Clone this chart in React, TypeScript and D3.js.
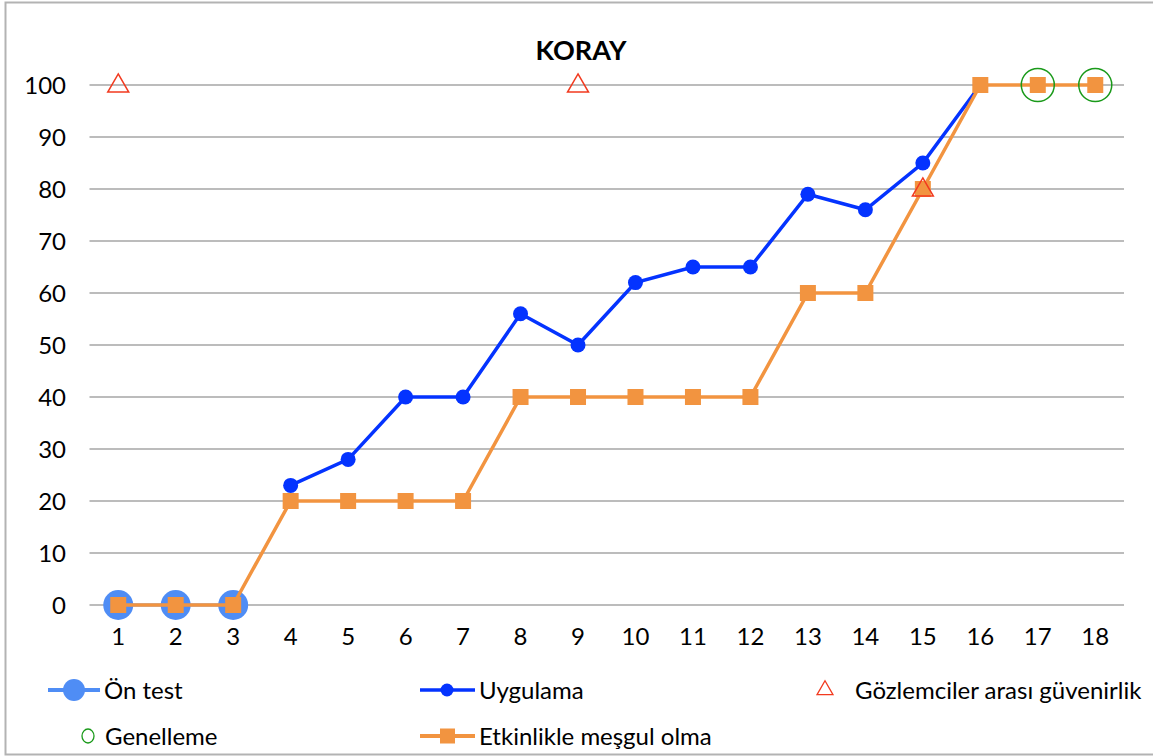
import React, { useRef, useEffect } from 'react';
import * as d3 from 'd3';

// x categories (sessions)
const sessions = ['1','2','3','4','5','6','7','8','9','10','11','12','13','14','15','16','17','18'];
const yTicks = [0, 10, 20, 30, 40, 50, 60, 70, 80, 90, 100];

// series: [session, value]
const onTest: [string, number][] = [['1', 0], ['2', 0], ['3', 0]];
const uygulama: [string, number][] = [
  ['4', 23], ['5', 28], ['6', 40], ['7', 40], ['8', 56], ['9', 50], ['10', 62],
  ['11', 65], ['12', 65], ['13', 79], ['14', 76], ['15', 85], ['16', 100],
];
const guvenirlik: [string, number][] = [['1', 100], ['9', 100], ['15', 80]];
const genelleme: [string, number][] = [['17', 100], ['18', 100]];
const etkinlik: [string, number][] = [
  ['1', 0], ['2', 0], ['3', 0], ['4', 20], ['5', 20], ['6', 20], ['7', 20], ['8', 40], ['9', 40],
  ['10', 40], ['11', 40], ['12', 40], ['13', 60], ['14', 60], ['15', 80], ['16', 100], ['17', 100], ['18', 100],
];

const FONT = 'Lato, "Open Sans", sans-serif';
const BLUE_LIGHT = '#4f8df5';
const BLUE = '#0433ff';
const ORANGE = '#f29440';
const RED = '#f23a1f';
const GREEN = '#1a9a1a';

const App = () => {
  const ref = useRef<SVGSVGElement>(null);

  useEffect(() => {
    const svg = d3.select(ref.current);
    svg.selectAll('*').remove();

    // chart frame
    svg.append('rect')
      .attr('x', 5.5).attr('y', 2.5).attr('width', 1160).attr('height', 752)
      .attr('fill', '#fff').attr('stroke', '#b3b3b3').attr('stroke-width', 2);

    const x = d3.scaleBand().domain(sessions).range([89.5, 1124]);
    const y = d3.scaleLinear().domain([0, 100]).range([605, 85]);
    const cx = (d: [string, number]) => (x(d[0]) as number) + x.bandwidth() / 2;
    const cy = (d: [string, number]) => y(d[1]);

    // title
    svg.append('text')
      .attr('x', 581).attr('y', 60)
      .attr('text-anchor', 'middle')
      .attr('font-family', FONT).attr('font-weight', 'bold').attr('font-size', 27)
      .text('KORAY');

    // grid lines
    svg.append('g').selectAll('line').data(yTicks).join('line')
      .attr('x1', 89.5).attr('x2', 1124)
      .attr('y1', d => y(d)).attr('y2', d => y(d))
      .attr('stroke', '#a6a6a6').attr('stroke-width', 1.5);

    // y labels
    svg.append('g').selectAll('text').data(yTicks).join('text')
      .attr('x', 66).attr('y', d => y(d) + 8.5)
      .attr('text-anchor', 'end')
      .attr('font-family', FONT).attr('font-size', 24)
      .text(d => d);

    // x labels
    svg.append('g').selectAll('text').data(sessions).join('text')
      .attr('x', d => (x(d) as number) + x.bandwidth() / 2).attr('y', 645)
      .attr('text-anchor', 'middle')
      .attr('font-family', FONT).attr('font-size', 24)
      .text(d => d);

    const line = d3.line<[string, number]>().x(cx).y(cy);
    const tri = d3.symbol().type(d3.symbolTriangle).size(190);

    // Ön test
    svg.append('path').datum(onTest).attr('d', line)
      .attr('fill', 'none').attr('stroke', BLUE_LIGHT).attr('stroke-width', 3);
    svg.append('g').selectAll('circle').data(onTest).join('circle')
      .attr('cx', cx).attr('cy', cy).attr('r', 15).attr('fill', BLUE_LIGHT);

    // Uygulama
    svg.append('path').datum(uygulama).attr('d', line)
      .attr('fill', 'none').attr('stroke', BLUE).attr('stroke-width', 3.5);
    svg.append('g').selectAll('circle').data(uygulama).join('circle')
      .attr('cx', cx).attr('cy', cy).attr('r', 7.5).attr('fill', BLUE);

    // Etkinlikle meşgul olma
    svg.append('path').datum(etkinlik).attr('d', line)
      .attr('fill', 'none').attr('stroke', ORANGE).attr('stroke-width', 3.5);
    svg.append('g').selectAll('rect').data(etkinlik).join('rect')
      .attr('x', d => cx(d) - 8).attr('y', d => cy(d) - 8)
      .attr('width', 16).attr('height', 16).attr('fill', ORANGE);

    // Gözlemciler arası güvenirlik
    svg.append('g').selectAll('path').data(guvenirlik).join('path')
      .attr('d', tri)
      .attr('transform', d => `translate(${cx(d)},${cy(d) + 1})`)
      .attr('fill', 'none').attr('stroke', RED).attr('stroke-width', 1.5);

    // Genelleme
    svg.append('g').selectAll('circle').data(genelleme).join('circle')
      .attr('cx', cx).attr('cy', cy).attr('r', 16.5)
      .attr('fill', 'none').attr('stroke', GREEN).attr('stroke-width', 1.5);

    // legend
    const lg = svg.append('g').attr('font-family', FONT).attr('font-size', 24);
    const row1 = 690, row2 = 736;

    lg.append('line').attr('x1', 48).attr('x2', 100).attr('y1', row1).attr('y2', row1)
      .attr('stroke', BLUE_LIGHT).attr('stroke-width', 4);
    lg.append('circle').attr('cx', 74).attr('cy', row1).attr('r', 11).attr('fill', BLUE_LIGHT);
    lg.append('text').attr('x', 104).attr('y', row1 + 9).text('Ön test');

    lg.append('line').attr('x1', 420).attr('x2', 475).attr('y1', row1).attr('y2', row1)
      .attr('stroke', BLUE).attr('stroke-width', 3.5);
    lg.append('circle').attr('cx', 447).attr('cy', row1).attr('r', 6.5).attr('fill', BLUE);
    lg.append('text').attr('x', 479).attr('y', row1 + 9).text('Uygulama');

    lg.append('path').attr('d', d3.symbol().type(d3.symbolTriangle).size(110))
      .attr('transform', `translate(825,${row1})`)
      .attr('fill', 'none').attr('stroke', RED).attr('stroke-width', 1.3);
    lg.append('text').attr('x', 855).attr('y', row1 + 9).text('Gözlemciler arası güvenirlik');

    lg.append('ellipse').attr('cx', 88).attr('cy', row2).attr('rx', 6).attr('ry', 7)
      .attr('fill', 'none').attr('stroke', GREEN).attr('stroke-width', 1.3);
    lg.append('text').attr('x', 105).attr('y', row2 + 9).text('Genelleme');

    lg.append('line').attr('x1', 420).attr('x2', 475).attr('y1', row2).attr('y2', row2)
      .attr('stroke', ORANGE).attr('stroke-width', 4);
    lg.append('rect').attr('x', 440).attr('y', row2 - 7.5).attr('width', 15).attr('height', 15).attr('fill', ORANGE);
    lg.append('text').attr('x', 479).attr('y', row2 + 9).text('Etkinlikle meşgul olma');
  }, []);

  return <svg ref={ref} width={1153} height={756} style={{ position: 'absolute', left: 0, top: 0 }}></svg>;
};

export default App;
